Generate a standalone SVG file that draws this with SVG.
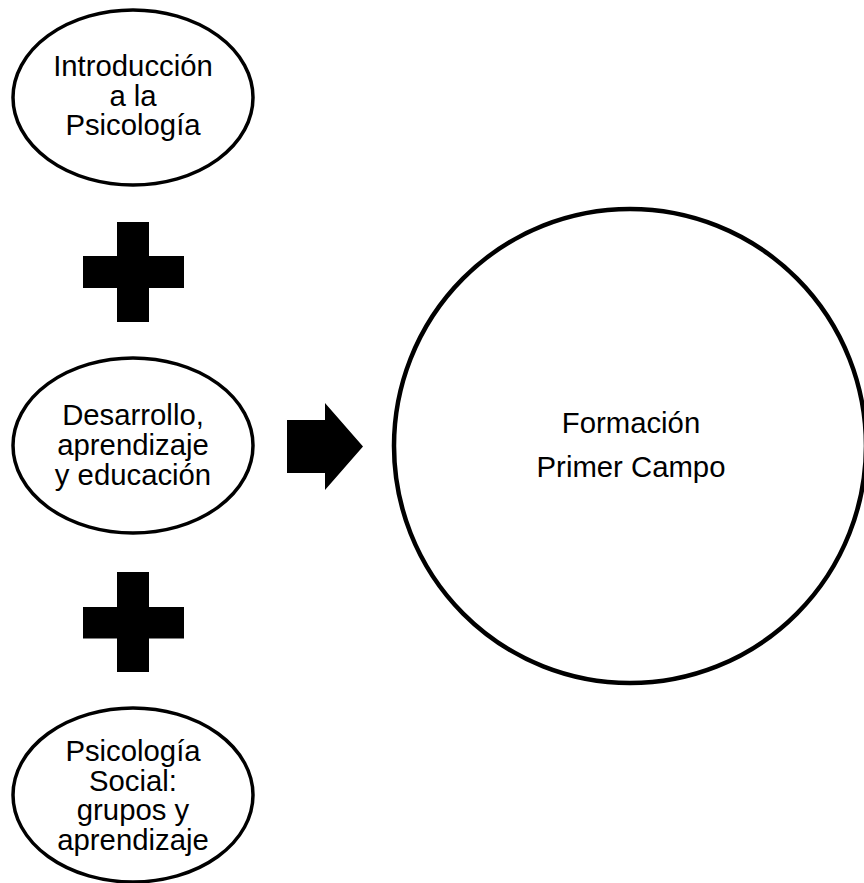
<svg xmlns="http://www.w3.org/2000/svg" width="864" height="883" viewBox="0 0 864 883">
<style>
.node{fill:#fff;stroke:#000;stroke-width:3.5}
.big{fill:#fff;stroke:#000;stroke-width:4.5}
.t{font-family:"Liberation Sans",Arial,sans-serif;font-size:29.3px;fill:#000;text-anchor:middle}
.sym{fill:#000}
</style>
<rect width="864" height="883" fill="#fff"/>
<g id="n-intro">
<ellipse class="node" cx="133" cy="97.5" rx="120" ry="87.5"/>
<text class="t"><tspan x="133" y="76">Introducción</tspan><tspan x="133" y="105.5">a la</tspan><tspan x="133" y="135">Psicología</tspan></text>
</g>
<g id="n-desarrollo">
<ellipse class="node" cx="133" cy="445.5" rx="120" ry="87.5"/>
<text class="t"><tspan x="133" y="424.5">Desarrollo,</tspan><tspan x="133" y="454.5">aprendizaje</tspan><tspan x="133" y="485">y educación</tspan></text>
</g>
<g id="n-social">
<ellipse class="node" cx="133" cy="795" rx="120" ry="87"/>
<text class="t"><tspan x="133" y="761">Psicología</tspan><tspan x="133" y="790.5">Social:</tspan><tspan x="133" y="820">grupos y</tspan><tspan x="133" y="849.5">aprendizaje</tspan></text>
</g>
<g id="n-formacion">
<ellipse class="big" cx="630" cy="446" rx="236" ry="237"/>
<text class="t"><tspan x="631" y="433">Formación</tspan><tspan x="631" y="477">Primer Campo</tspan></text>
</g>
<g id="connectors">
<path class="sym" d="M117,222 H149 V256 H184 V288 H149 V322 H117 V288 H83 V256 H117 Z"/>
<path class="sym" d="M117,572 H149 V607 H184 V638.5 H149 V672 H117 V638.5 H83 V607 H117 Z"/>
<path class="sym" d="M287,420 H325 V403 L363,446.5 L325,490 V473 H287 Z"/>
</g>
</svg>
